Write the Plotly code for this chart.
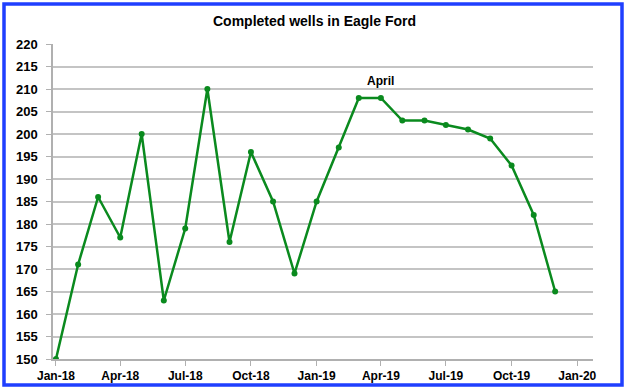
import plotly.graph_objects as go

months = ["2018-01-01", "2018-02-01", "2018-03-01", "2018-04-01", "2018-05-01", "2018-06-01",
          "2018-07-01", "2018-08-01", "2018-09-01", "2018-10-01", "2018-11-01", "2018-12-01",
          "2019-01-01", "2019-02-01", "2019-03-01", "2019-04-01", "2019-05-01", "2019-06-01",
          "2019-07-01", "2019-08-01", "2019-09-01", "2019-10-01", "2019-11-01", "2019-12-01"]
wells = [150, 171, 186, 177, 200, 163, 179, 210, 176, 196, 185, 169,
         185, 197, 208, 208, 203, 203, 202, 201, 199, 193, 182, 165]
title_text = "Completed wells in Eagle Ford"
note_text = "April"
note_x = "2019-04-01"
note_y = 211.7

FONT = "Liberation Sans, Arial, sans-serif"

fig = go.Figure()
fig.add_trace(go.Scatter(
    x=months, y=wells, mode="lines+markers",
    line=dict(color="#0a8a1e", width=2.5),
    marker=dict(color="#0a8a1e", size=6),
    showlegend=False, hoverinfo="x+y",
))

fig.add_annotation(x=note_x, y=note_y, text="<b>" + note_text + "</b>", showarrow=False,
                   font=dict(family=FONT, size=12, color="#000000"))

fig.update_layout(
    width=629, height=391, autosize=False,
    margin=dict(l=53, r=36, t=44, b=32, autoexpand=False),
    paper_bgcolor="white", plot_bgcolor="white",
    title=dict(text="<b>" + title_text + "</b>", x=0.5, xanchor="center",
               y=1 - 21 / 391, yanchor="middle",
               font=dict(family=FONT, size=14, color="#000000")),
    xaxis=dict(
        type="date", range=["2017-12-27 20:00", "2020-01-23"],
        tick0="2018-01-01", dtick="M3", tickformat="%b-%y",
        showgrid=False, showline=True, linecolor="#b0b0b0", linewidth=1.5,
        ticks="outside", ticklen=5, tickcolor="#b0b0b0",
        tickfont=dict(family=FONT, size=12, color="#000000", weight="bold"),
        automargin=False,
        zeroline=False,
    ),
    yaxis=dict(
        range=[150, 220], tick0=150, dtick=5,
        showgrid=True, gridcolor="#c4c4c4", gridwidth=2,
        showline=True, linecolor="#b0b0b0", linewidth=1.5,
        ticks="outside", ticklen=5, tickcolor="#b0b0b0",
        tickfont=dict(family=FONT, size=13, color="#000000", weight="bold"),
        ticklabelstandoff=6, automargin=False,
        zeroline=False,
    ),
    shapes=[dict(
        type="rect", xref="paper", yref="paper",
        x0=(4 - 53) / 540, x1=(622 - 53) / 540,
        y0=(359 - 385) / 315, y1=(359 - 4) / 315,
        line=dict(color="#1f3fff", width=3.5), fillcolor="rgba(0,0,0,0)", layer="above",
    )],
)

fig.write_html("out.html", config={"displayModeBar": False},
               post_script="document.body.style.margin='0';document.body.style.overflow='hidden';")
